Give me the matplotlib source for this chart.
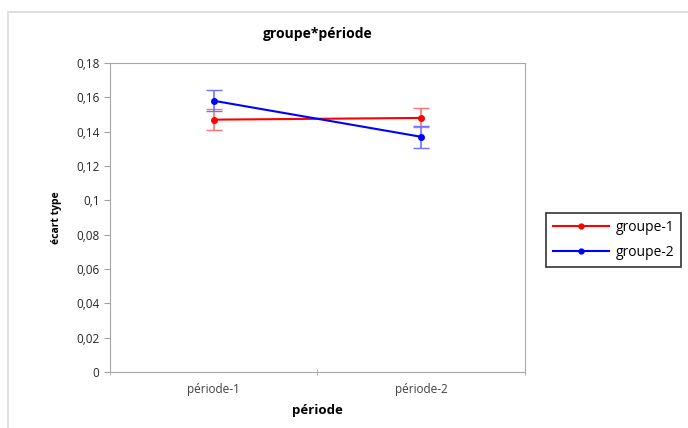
import matplotlib.pyplot as plt
from matplotlib.patches import Rectangle
from matplotlib.lines import Line2D
from matplotlib.ticker import FuncFormatter

periodes = ['période-1', 'période-2']
groupe1 = [0.147, 0.148]
groupe1_err = [0.006, 0.0055]
groupe2 = [0.158, 0.137]
groupe2_err = [0.006, 0.0065]

plt.rcParams['font.family'] = ['Open Sans', 'DejaVu Sans']

fig = plt.figure(figsize=(6.88, 4.28), dpi=100)
# cadre du graphique
fig.patches.append(Rectangle((8 / 688, -0.05), 1.0, 1 - 12 / 428 + 0.05,
                             transform=fig.transFigure, fill=False,
                             edgecolor='#d9d9d9', linewidth=1.2))

ax = fig.add_axes([110 / 688, 56 / 428, 415 / 688, 309 / 428])
x = [1, 2]
ax.errorbar(x, groupe1, yerr=groupe1_err, color='red', marker='o', markersize=4,
            linewidth=1.5, ecolor='#ff7070', elinewidth=1.2, capsize=6)
ax.errorbar(x, groupe2, yerr=groupe2_err, color='blue', marker='o', markersize=4,
            linewidth=1.5, ecolor='#7070ff', elinewidth=1.2, capsize=6)

ax.set_xlim(0.5, 2.5)
ax.set_ylim(0, 0.18)
ax.set_yticks([i * 0.02 for i in range(10)])
ax.yaxis.set_major_formatter(FuncFormatter(lambda v, p: ('%g' % round(v, 2)).replace('.', ',')))
ax.set_xticks(x)
ax.set_xticklabels(periodes)
ax.set_xticks([0.5, 1.5, 2.5], minor=True)
ax.tick_params(axis='x', which='major', length=0, pad=8, labelsize=8.5, colors='#404040')
ax.tick_params(axis='x', which='minor', length=5, color='#a0a0a0', direction='inout')
ax.tick_params(axis='y', length=4, color='#a0a0a0', labelsize=8.5, labelcolor='#262626')
for s in ax.spines.values():
    s.set_color('#a6a6a6')

ax.set_title('groupe*période', fontsize=10, fontweight='bold', pad=18)
ax.set_xlabel('période', fontsize=9.5, fontweight='bold', labelpad=6)
ax.set_ylabel('écart type', fontsize=7.5, fontweight='bold', labelpad=10)

handles = [Line2D([], [], color='red', marker='o', markersize=3.5, linewidth=1.5),
           Line2D([], [], color='blue', marker='o', markersize=3.5, linewidth=1.5)]
leg = fig.legend(handles, ['groupe-1', 'groupe-2'], loc='center left',
                 bbox_to_anchor=(546 / 688, 1 - 240 / 428), fontsize=10, frameon=True,
                 fancybox=False, handlelength=4, borderpad=0.5, labelspacing=0.7,
                 handletextpad=0.5, borderaxespad=0)
leg.get_frame().set_edgecolor('black')
leg.get_frame().set_linewidth(1.2)

fig.savefig('out.png', dpi=100)
